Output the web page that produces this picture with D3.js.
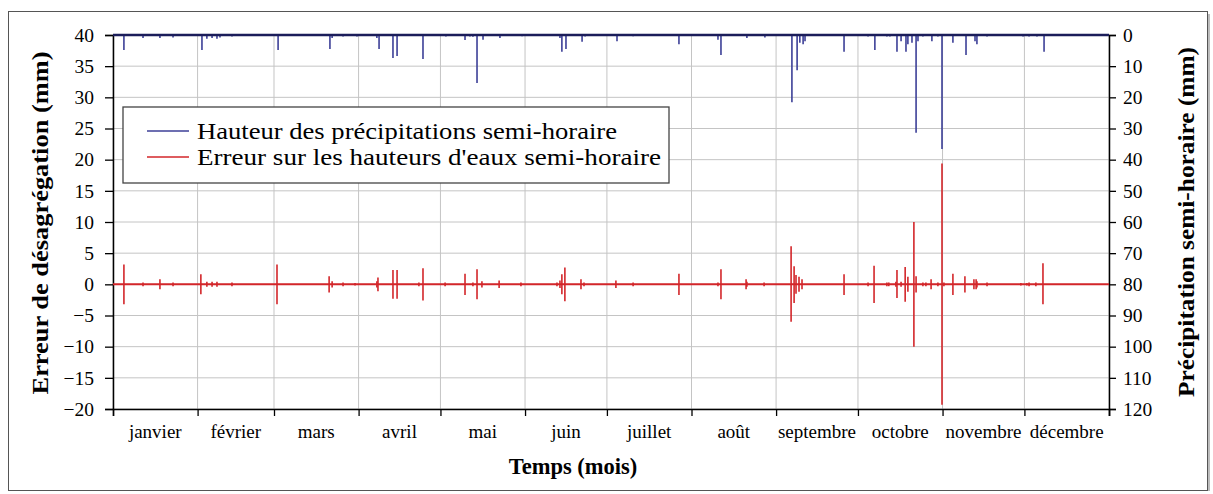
<!DOCTYPE html>
<html>
<head>
<meta charset="utf-8">
<script src="https://cdn.jsdelivr.net/npm/d3@7"></script>
<style>
  body { margin: 0; background: #fff; }
  svg text { font-family: "Liberation Serif", "Times New Roman", serif; fill: #000; }
</style>
</head>
<body>
<div id="chart"></div>
<script>
// month labels shown between the ticks
var months = ["janvier", "février", "mars", "avril", "mai", "juin", "juillet", "août",
              "septembre", "octobre", "novembre", "décembre"];

var leftTicks = [40, 35, 30, 25, 20, 15, 10, 5, 0, -5, -10, -15, -20];
var rightTicks = [0, 10, 20, 30, 40, 50, 60, 70, 80, 90, 100, 110, 120];

// precipitation events, day of year (fractional) and height in mm
var rainDay = [4.0, 11.0, 17.2, 22.0, 32.6, 34.4, 36.3, 38.1, 39.2, 43.6, 60.5, 79.5, 80.3, 84.3, 89.4,
  96.7, 97.5, 102.6, 104.1, 113.6, 122.0, 129.0, 130.8, 131.9, 133.4, 135.6, 141.8, 149.9, 163.8, 164.5,
  166.0, 171.9, 173.0, 184.7, 190.6, 207.4, 221.7, 222.8, 232.3, 238.9, 248.8, 250.7, 251.7, 252.9, 253.6,
  267.9, 276.7, 279.2, 283.6, 284.7, 287.3, 288.8, 290.6, 291.3, 292.8, 294.3, 295.0, 296.8, 300.1, 302.3,
  303.8, 307.8, 312.6, 315.9, 316.6, 320.3, 333.5, 335.7, 338.6, 341.2];
var rainMm = [4.8, 1.0, 1.0, 0.8, 4.8, 1.2, 1.0, 1.2, 0.8, 0.5, 4.8, 4.5, 1.0, 0.5, 0.5,
  1.0, 4.5, 7.4, 6.7, 7.7, 0.5, 1.6, 0.5, 0.6, 15.4, 1.5, 1.0, 0.4, 1.0, 5.4,
  4.5, 2.2, 0.5, 2.0, 0.4, 3.0, 1.5, 6.4, 1.0, 0.8, 21.6, 11.3, 2.5, 3.0, 2.0,
  5.4, 0.5, 4.8, 0.5, 0.5, 5.4, 2.0, 5.4, 3.0, 2.5, 31.4, 2.0, 0.5, 2.0, 0.5,
  36.6, 2.5, 6.4, 2.0, 3.0, 0.5, 0.5, 0.5, 0.5, 5.4];

// disaggregation error events, day of year, max and min in mm
var errDay = [4.0, 11.0, 17.2, 22.0, 32.2, 34.4, 36.3, 38.1, 43.6, 60.1, 79.2, 80.3, 84.3, 88.7,
  96.7, 97.1, 102.6, 104.1, 112.1, 113.6, 121.7, 129.0, 131.9, 133.4, 135.2, 141.5, 149.5, 162.7,
  163.8, 164.5, 165.6, 171.5, 172.6, 184.3, 190.6, 207.4, 221.7, 222.8, 232.0, 232.3, 238.6,
  248.5, 249.6, 250.3, 251.4, 252.5, 267.9, 276.7, 278.9, 283.6, 284.3, 286.9, 287.3, 288.8,
  290.3, 291.3, 293.5, 294.3, 296.8, 297.9, 299.8, 302.3, 303.8, 304.5, 307.8, 312.2, 315.5,
  316.3, 316.6, 320.3, 332.7, 334.9, 335.7, 338.2, 340.8];
var errUp = [3.2, 0.3, 0.8, 0.3, 1.6, 0.4, 0.4, 0.4, 0.3, 3.2, 1.3, 0.5, 0.3, 0.2,
  0.5, 1.1, 2.3, 2.3, 0.3, 2.6, 0.3, 1.7, 0.3, 2.4, 0.5, 0.6, 0.3, 0.3,
  0.6, 1.6, 2.7, 0.8, 0.3, 0.6, 0.3, 1.7, 0.3, 2.4, 0.8, 0.4, 0.3,
  6.1, 2.9, 1.5, 1.2, 0.8, 1.6, 0.3, 3.0, 0.3, 0.3, 0.4, 2.3, 0.4,
  2.8, 1.2, 10.0, 1.3, 0.3, 0.3, 0.8, 0.3, 19.4, 0.3, 1.7, 1.3, 0.8,
  0.8, 0.5, 0.3, 0.2, 0.2, 0.3, 0.3, 3.4];
var errDown = [-3.2, -0.3, -0.8, -0.3, -1.6, -0.4, -0.4, -0.4, -0.3, -3.2, -1.3, -0.5, -0.3, -0.2,
  -0.5, -1.1, -2.3, -2.3, -0.3, -2.6, -0.3, -1.7, -0.3, -2.4, -0.5, -0.6, -0.3, -0.3,
  -0.6, -1.6, -2.7, -0.8, -0.3, -0.6, -0.3, -1.7, -0.3, -2.4, -0.8, -0.4, -0.3,
  -6.0, -3.0, -1.5, -1.2, -0.8, -1.7, -0.3, -3.0, -0.3, -0.3, -0.4, -2.2, -0.4,
  -2.8, -1.2, -10.0, -1.3, -0.3, -0.3, -0.8, -0.3, -19.3, -0.3, -1.7, -1.3, -0.8,
  -0.8, -0.5, -0.3, -0.2, -0.2, -0.3, -0.3, -3.2];

var W = 1213, H = 494;
var margin = { left: 113, right: 104, top: 35, bottom: 85 };
var width = W - margin.left - margin.right;
var height = H - margin.top - margin.bottom;

var blue = "#3c3f97", red = "#d3262a", grid = "#c4c4c4";

var start = Date.UTC(2005, 0, 1);
function toDate(d) { return new Date(start + d * 864e5); }

var svg = d3.select("#chart").append("svg")
    .attr("width", W)
    .attr("height", H);

// outer frame with its shadow
svg.append("rect").attr("x", 11).attr("y", 14).attr("width", W - 14).attr("height", H - 17).attr("fill", "#bdbdbd");
svg.append("rect").attr("x", 8.5).attr("y", 11.5).attr("width", 1199).attr("height", 479)
    .attr("fill", "#fff").attr("stroke", "#555").attr("stroke-width", 1);

var g = svg.append("g").attr("transform", "translate(" + margin.left + "," + margin.top + ")");

var x = d3.scaleUtc().domain([toDate(0), toDate(365)]).range([0, width]);
var yL = d3.scaleLinear().domain([-20, 40]).range([height, 0]);
var yR = d3.scaleLinear().domain([0, 120]).range([0, height]);

var monthStarts = d3.utcMonths(toDate(0), toDate(365.5));

// grid lines
g.append("g").selectAll("line").data(leftTicks).enter().append("line")
    .attr("x1", 0).attr("x2", width)
    .attr("y1", function (d) { return yL(d); }).attr("y2", function (d) { return yL(d); })
    .attr("stroke", grid).attr("stroke-width", 1);
g.append("g").selectAll("line").data(monthStarts).enter().append("line")
    .attr("x1", function (d) { return x(d); }).attr("x2", function (d) { return x(d); })
    .attr("y1", 0).attr("y2", height)
    .attr("stroke", grid).attr("stroke-width", 1);

// axes
var axL = g.append("g").call(d3.axisLeft(yL).tickValues(leftTicks).tickSize(8).tickPadding(11));
var axR = g.append("g").attr("transform", "translate(" + width + ",0)")
    .call(d3.axisRight(yR).tickValues(rightTicks).tickSize(7).tickPadding(7));
var axB = g.append("g").attr("transform", "translate(0," + height + ")")
    .call(d3.axisBottom(x).tickValues(monthStarts.concat([toDate(365)])).tickSize(7).tickFormat(""));
[axL, axR, axB].forEach(function (a) {
    a.attr("font-size", null).attr("font-family", null);
    a.select(".domain").attr("stroke", "#000").attr("stroke-width", 1.5);
    a.selectAll(".tick line").attr("stroke", "#000").attr("stroke-width", 1.3);
    a.selectAll("text").attr("fill", "#000")
        .style("font-family", "'Liberation Serif', serif").style("font-size", "19.5px");
});

// month labels centred in each month
g.append("g").selectAll("text").data(monthStarts.slice(0, 12)).enter().append("text")
    .attr("x", function (d) { return (x(d) + x(d3.utcMonth.offset(d, 1))) / 2; })
    .attr("y", height + 29)
    .attr("text-anchor", "middle")
    .style("font-size", "19px")
    .text(function (d, i) { return months[i]; });

// error series: red baseline and spikes
g.append("line").attr("x1", 0).attr("x2", width).attr("y1", yL(0)).attr("y2", yL(0))
    .attr("stroke", red).attr("stroke-width", 2);
g.append("g").selectAll("line").data(errDay).enter().append("line")
    .attr("x1", function (d) { return x(toDate(d)); }).attr("x2", function (d) { return x(toDate(d)); })
    .attr("y1", function (d, i) { return yL(errUp[i]); })
    .attr("y2", function (d, i) { return yL(errDown[i]); })
    .attr("stroke", red).attr("stroke-width", 1.6);

// precipitation series: hanging from the top
g.append("g").selectAll("line").data(rainDay).enter().append("line")
    .attr("x1", function (d) { return x(toDate(d)); }).attr("x2", function (d) { return x(toDate(d)); })
    .attr("y1", yR(0))
    .attr("y2", function (d, i) { return yR(rainMm[i]); })
    .attr("stroke", blue).attr("stroke-width", 1.6);
g.append("line").attr("x1", 0).attr("x2", width).attr("y1", yR(0)).attr("y2", yR(0))
    .attr("stroke", "#1b1d5a").attr("stroke-width", 2.5);

// legend
var lg = svg.append("g").attr("transform", "translate(123,107)");
lg.append("rect").attr("width", 546).attr("height", 76)
    .attr("fill", "#fff").attr("stroke", "#444").attr("stroke-width", 1.3);
[["Hauteur des précipitations semi-horaire", blue, 420], ["Erreur sur les hauteurs d'eaux semi-horaire", red, 464]]
    .forEach(function (it, i) {
        var yy = 24 + i * 26;
        lg.append("line").attr("x1", 24).attr("x2", 66).attr("y1", yy).attr("y2", yy)
            .attr("stroke", it[1]).attr("stroke-width", 1.5);
        lg.append("text").attr("x", 74).attr("y", yy + 8).style("font-size", "24px")
            .attr("textLength", it[2]).attr("lengthAdjust", "spacingAndGlyphs").text(it[0]);
    });

// axis titles
svg.append("text")
    .attr("transform", "translate(48," + 223 + ") rotate(-90)")
    .attr("text-anchor", "middle").style("font-size", "23px").style("font-weight", "bold")
    .attr("textLength", 343).attr("lengthAdjust", "spacingAndGlyphs")
    .text("Erreur  de  désagrégation  (mm)");
svg.append("text")
    .attr("transform", "translate(1194," + 222 + ") rotate(-90)")
    .attr("text-anchor", "middle").style("font-size", "23px").style("font-weight", "bold")
    .attr("textLength", 350).attr("lengthAdjust", "spacingAndGlyphs")
    .text("Précipitation  semi-horaire  (mm)");
svg.append("text")
    .attr("x", 573).attr("y", 474)
    .attr("text-anchor", "middle").style("font-size", "22.5px").style("font-weight", "bold")
    .text("Temps (mois)");
</script>
</body>
</html>
